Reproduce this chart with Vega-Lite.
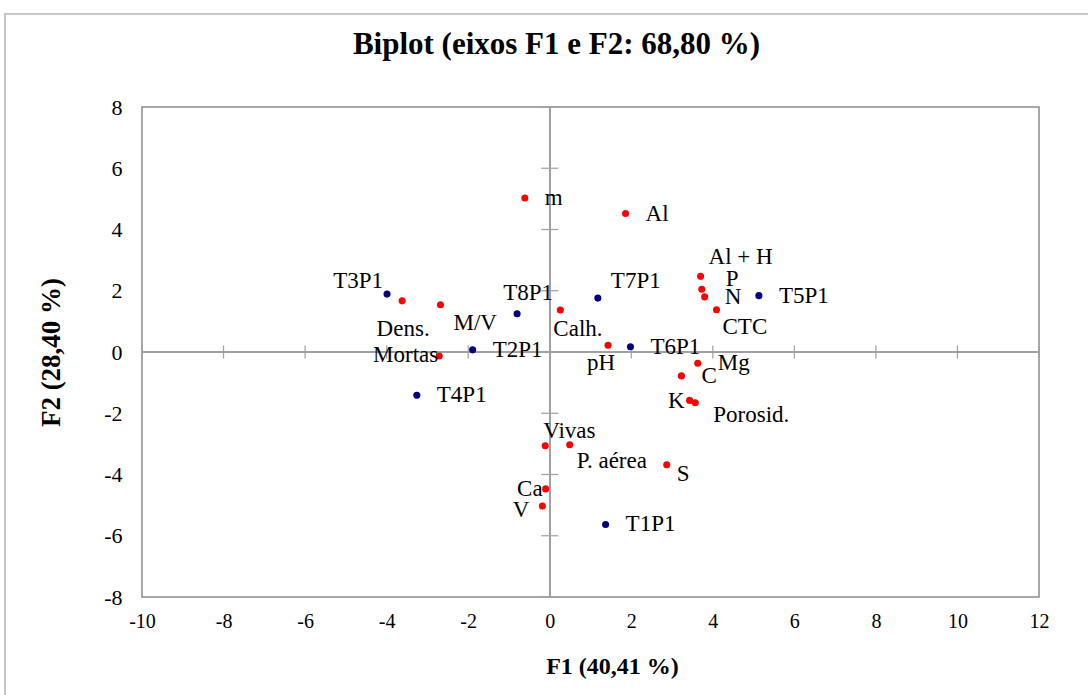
{
  "$schema": "https://vega.github.io/schema/vega-lite/v6.json",
  "width": 897,
  "height": 490,
  "autosize": "none",
  "padding": {"left": 142, "top": 107, "right": 49, "bottom": 98},
  "background": "white",
  "title": {
    "text": "Biplot (eixos F1 e F2: 68,80 %)",
    "font": "Liberation Serif",
    "fontSize": 31,
    "fontWeight": "bold",
    "color": "#000000",
    "frame": "group",
    "anchor": "middle",
    "offset": -48,
    "dx": -34
  },
  "datasets": {
    "scores": [
      {"label": "T1P1", "kind": "obs", "F1": 1.37, "F2": -5.63},
      {"label": "T2P1", "kind": "obs", "F1": -1.89, "F2": 0.07},
      {"label": "T3P1", "kind": "obs", "F1": -3.99, "F2": 1.89},
      {"label": "T4P1", "kind": "obs", "F1": -3.26, "F2": -1.41},
      {"label": "T5P1", "kind": "obs", "F1": 5.13, "F2": 1.84},
      {"label": "T6P1", "kind": "obs", "F1": 1.98, "F2": 0.17},
      {"label": "T7P1", "kind": "obs", "F1": 1.18, "F2": 1.76},
      {"label": "T8P1", "kind": "obs", "F1": -0.8, "F2": 1.25},
      {"label": "Dens.", "kind": "var", "F1": -3.62, "F2": 1.67},
      {"label": "M/V", "kind": "var", "F1": -2.68, "F2": 1.54},
      {"label": "Mortas", "kind": "var", "F1": -2.71, "F2": -0.13},
      {"label": "m", "kind": "var", "F1": -0.61, "F2": 5.03},
      {"label": "Al", "kind": "var", "F1": 1.86, "F2": 4.52},
      {"label": "Calh.", "kind": "var", "F1": 0.26, "F2": 1.37},
      {"label": "pH", "kind": "var", "F1": 1.43, "F2": 0.22},
      {"label": "Al + H", "kind": "var", "F1": 3.7, "F2": 2.47},
      {"label": "P", "kind": "var", "F1": 3.73, "F2": 2.05},
      {"label": "N", "kind": "var", "F1": 3.8, "F2": 1.8},
      {"label": "CTC", "kind": "var", "F1": 4.09, "F2": 1.38},
      {"label": "Mg", "kind": "var", "F1": 3.63, "F2": -0.37},
      {"label": "C", "kind": "var", "F1": 3.23, "F2": -0.78},
      {"label": "K", "kind": "var", "F1": 3.43, "F2": -1.58},
      {"label": "Porosid.", "kind": "var", "F1": 3.57, "F2": -1.66},
      {"label": "Vivas", "kind": "var", "F1": -0.11, "F2": -3.06},
      {"label": "P. aérea", "kind": "var", "F1": 0.49, "F2": -3.03},
      {"label": "S", "kind": "var", "F1": 2.87, "F2": -3.68},
      {"label": "Ca", "kind": "var", "F1": -0.1, "F2": -4.47},
      {"label": "V", "kind": "var", "F1": -0.18, "F2": -5.03}
    ],
    "ticks": [
      {"dir": "x", "v": -10}, {"dir": "x", "v": -8}, {"dir": "x", "v": -6}, {"dir": "x", "v": -4},
      {"dir": "x", "v": -2}, {"dir": "x", "v": 2}, {"dir": "x", "v": 4}, {"dir": "x", "v": 6},
      {"dir": "x", "v": 8}, {"dir": "x", "v": 10}, {"dir": "x", "v": 12},
      {"dir": "y", "v": -8}, {"dir": "y", "v": -6}, {"dir": "y", "v": -4}, {"dir": "y", "v": -2},
      {"dir": "y", "v": 2}, {"dir": "y", "v": 4}, {"dir": "y", "v": 6}, {"dir": "y", "v": 8}
    ]
  },
  "data": {"name": "scores"},
  "layer": [
    {
      "description": "light outer frame around the whole chart",
      "mark": {"type": "rect", "fillOpacity": 0, "stroke": "#c4c4c4", "strokeWidth": 1},
      "encoding": {
        "x": {"datum": -13.36, "type": "quantitative", "title": "F1 (40,41 %)", "scale": {"domain": [-10, 12], "nice": false, "zero": false}},
        "x2": {"datum": 14.2},
        "y": {"datum": 11.05, "type": "quantitative", "title": "F2 (28,40 %)", "scale": {"domain": [-8, 8], "nice": false, "zero": false}},
        "y2": {"datum": -11.8}
      }
    },
    {
      "mark": {"type": "rule", "color": "#a0a0a0", "strokeWidth": 1.2},
      "encoding": {
        "x": {"datum": 0, "type": "quantitative", "title": "F1 (40,41 %)", "scale": {"domain": [-10, 12], "nice": false, "zero": false}}
      }
    },
    {
      "mark": {"type": "rule", "color": "#a0a0a0", "strokeWidth": 1.2},
      "encoding": {
        "y": {"datum": 0, "type": "quantitative", "title": "F2 (28,40 %)", "scale": {"domain": [-8, 8], "nice": false, "zero": false}}
      }
    },
    {
      "data": {"name": "ticks"},
      "transform": [{"filter": "datum.dir === 'x'"}],
      "mark": {"type": "rule", "color": "#a0a0a0", "strokeWidth": 1.2},
      "encoding": {
        "x": {"field": "v", "type": "quantitative", "title": "F1 (40,41 %)", "scale": {"domain": [-10, 12], "nice": false, "zero": false}},
        "y": {"datum": -0.21, "type": "quantitative", "title": "F2 (28,40 %)", "scale": {"domain": [-8, 8], "nice": false, "zero": false}},
        "y2": {"datum": 0.21}
      }
    },
    {
      "data": {"name": "ticks"},
      "transform": [{"filter": "datum.dir === 'y'"}],
      "mark": {"type": "rule", "color": "#a0a0a0", "strokeWidth": 1.2},
      "encoding": {
        "y": {"field": "v", "type": "quantitative", "title": "F2 (28,40 %)", "scale": {"domain": [-8, 8], "nice": false, "zero": false}},
        "x": {"datum": -0.21, "type": "quantitative", "title": "F1 (40,41 %)", "scale": {"domain": [-10, 12], "nice": false, "zero": false}},
        "x2": {"datum": 0.21}
      }
    },
    {
      "encoding": {
        "x": {
          "field": "F1", "type": "quantitative", "title": "F1 (40,41 %)",
          "scale": {"domain": [-10, 12], "nice": false, "zero": false},
          "axis": {"values": [-10, -8, -6, -4, -2, 0, 2, 4, 6, 8, 10, 12], "labelExpr": "'' + datum.value"}
        },
        "y": {
          "field": "F2", "type": "quantitative", "title": "F2 (28,40 %)",
          "scale": {"domain": [-8, 8], "nice": false, "zero": false},
          "axis": {"values": [-8, -6, -4, -2, 0, 2, 4, 6, 8], "labelExpr": "'' + datum.value"}
        },
        "text": {"field": "label"}
      },
      "layer": [
        {
          "mark": {"type": "circle", "size": 50, "opacity": 1},
          "encoding": {
            "color": {"field": "kind", "type": "nominal", "scale": {"domain": ["obs", "var"], "range": ["#00007f", "#ff0000"]}, "legend": null}
          }
        },
        {
          "transform": [{"filter": {"field": "label", "oneOf": ["m", "Al", "N", "T5P1", "T6P1", "Mg", "C", "T1P1", "T2P1", "T4P1"]}}],
          "mark": {"type": "text", "font": "Liberation Serif", "fontSize": 23, "color": "#000000", "baseline": "middle", "align": "left", "dx": 20, "dy": 0}
        },
        {
          "transform": [{"filter": {"field": "label", "equal": "T3P1"}}],
          "mark": {"type": "text", "font": "Liberation Serif", "fontSize": 23, "color": "#000000", "baseline": "middle", "align": "right", "dx": -4, "dy": -13}
        },
        {
          "transform": [{"filter": {"field": "label", "equal": "Dens."}}],
          "mark": {"type": "text", "font": "Liberation Serif", "fontSize": 23, "color": "#000000", "baseline": "middle", "align": "center", "dx": 1, "dy": 28}
        },
        {
          "transform": [{"filter": {"field": "label", "equal": "M/V"}}],
          "mark": {"type": "text", "font": "Liberation Serif", "fontSize": 23, "color": "#000000", "baseline": "middle", "align": "left", "dx": 13, "dy": 18}
        },
        {
          "transform": [{"filter": {"field": "label", "equal": "Mortas"}}],
          "mark": {"type": "text", "font": "Liberation Serif", "fontSize": 23, "color": "#000000", "baseline": "middle", "align": "right", "dx": -1, "dy": -1}
        },
        {
          "transform": [{"filter": {"field": "label", "equal": "T8P1"}}],
          "mark": {"type": "text", "font": "Liberation Serif", "fontSize": 23, "color": "#000000", "baseline": "middle", "align": "center", "dx": 11, "dy": -21}
        },
        {
          "transform": [{"filter": {"field": "label", "equal": "Calh."}}],
          "mark": {"type": "text", "font": "Liberation Serif", "fontSize": 23, "color": "#000000", "baseline": "middle", "align": "left", "dx": -7, "dy": 19}
        },
        {
          "transform": [{"filter": {"field": "label", "equal": "Al + H"}}],
          "mark": {"type": "text", "font": "Liberation Serif", "fontSize": 23, "color": "#000000", "baseline": "middle", "align": "left", "dx": 8, "dy": -19}
        },
        {
          "transform": [{"filter": {"field": "label", "equal": "P"}}],
          "mark": {"type": "text", "font": "Liberation Serif", "fontSize": 23, "color": "#000000", "baseline": "middle", "align": "left", "dx": 24, "dy": -10}
        },
        {
          "transform": [{"filter": {"field": "label", "equal": "T7P1"}}],
          "mark": {"type": "text", "font": "Liberation Serif", "fontSize": 23, "color": "#000000", "baseline": "middle", "align": "left", "dx": 13, "dy": -17}
        },
        {
          "transform": [{"filter": {"field": "label", "equal": "CTC"}}],
          "mark": {"type": "text", "font": "Liberation Serif", "fontSize": 23, "color": "#000000", "baseline": "middle", "align": "left", "dx": 6, "dy": 17}
        },
        {
          "transform": [{"filter": {"field": "label", "equal": "pH"}}],
          "mark": {"type": "text", "font": "Liberation Serif", "fontSize": 23, "color": "#000000", "baseline": "middle", "align": "center", "dx": -7, "dy": 18}
        },
        {
          "transform": [{"filter": {"field": "label", "equal": "K"}}],
          "mark": {"type": "text", "font": "Liberation Serif", "fontSize": 23, "color": "#000000", "baseline": "middle", "align": "right", "dx": -5, "dy": 1}
        },
        {
          "transform": [{"filter": {"field": "label", "equal": "Porosid."}}],
          "mark": {"type": "text", "font": "Liberation Serif", "fontSize": 23, "color": "#000000", "baseline": "middle", "align": "left", "dx": 18, "dy": 12}
        },
        {
          "transform": [{"filter": {"field": "label", "equal": "Vivas"}}],
          "mark": {"type": "text", "font": "Liberation Serif", "fontSize": 23, "color": "#000000", "baseline": "middle", "align": "left", "dx": -2, "dy": -15}
        },
        {
          "transform": [{"filter": {"field": "label", "equal": "P. aérea"}}],
          "mark": {"type": "text", "font": "Liberation Serif", "fontSize": 23, "color": "#000000", "baseline": "middle", "align": "left", "dx": 7, "dy": 16}
        },
        {
          "transform": [{"filter": {"field": "label", "equal": "S"}}],
          "mark": {"type": "text", "font": "Liberation Serif", "fontSize": 23, "color": "#000000", "baseline": "middle", "align": "left", "dx": 10, "dy": 9}
        },
        {
          "transform": [{"filter": {"field": "label", "equal": "Ca"}}],
          "mark": {"type": "text", "font": "Liberation Serif", "fontSize": 23, "color": "#000000", "baseline": "middle", "align": "right", "dx": -3, "dy": 0}
        },
        {
          "transform": [{"filter": {"field": "label", "equal": "V"}}],
          "mark": {"type": "text", "font": "Liberation Serif", "fontSize": 23, "color": "#000000", "baseline": "middle", "align": "right", "dx": -13, "dy": 4}
        }
      ]
    }
  ],
  "config": {
    "view": {"stroke": "#8c8c8c", "strokeWidth": 1.5},
    "axis": {
      "domain": false,
      "ticks": false,
      "grid": false,
      "labelFlush": false,
      "labelFont": "Liberation Serif",
      "labelColor": "#000000",
      "titleFont": "Liberation Serif",
      "titleColor": "#000000",
      "titleFontWeight": "bold"
    },
    "axisX": {"labelFontSize": 20, "labelPadding": 14, "titleFontSize": 24, "titleX": 470, "titleY": 76, "titleBaseline": "alphabetic"},
    "axisY": {"labelFontSize": 22, "labelPadding": 20, "titleFontSize": 27, "titleX": -83, "titleBaseline": "alphabetic"}
  }
}
